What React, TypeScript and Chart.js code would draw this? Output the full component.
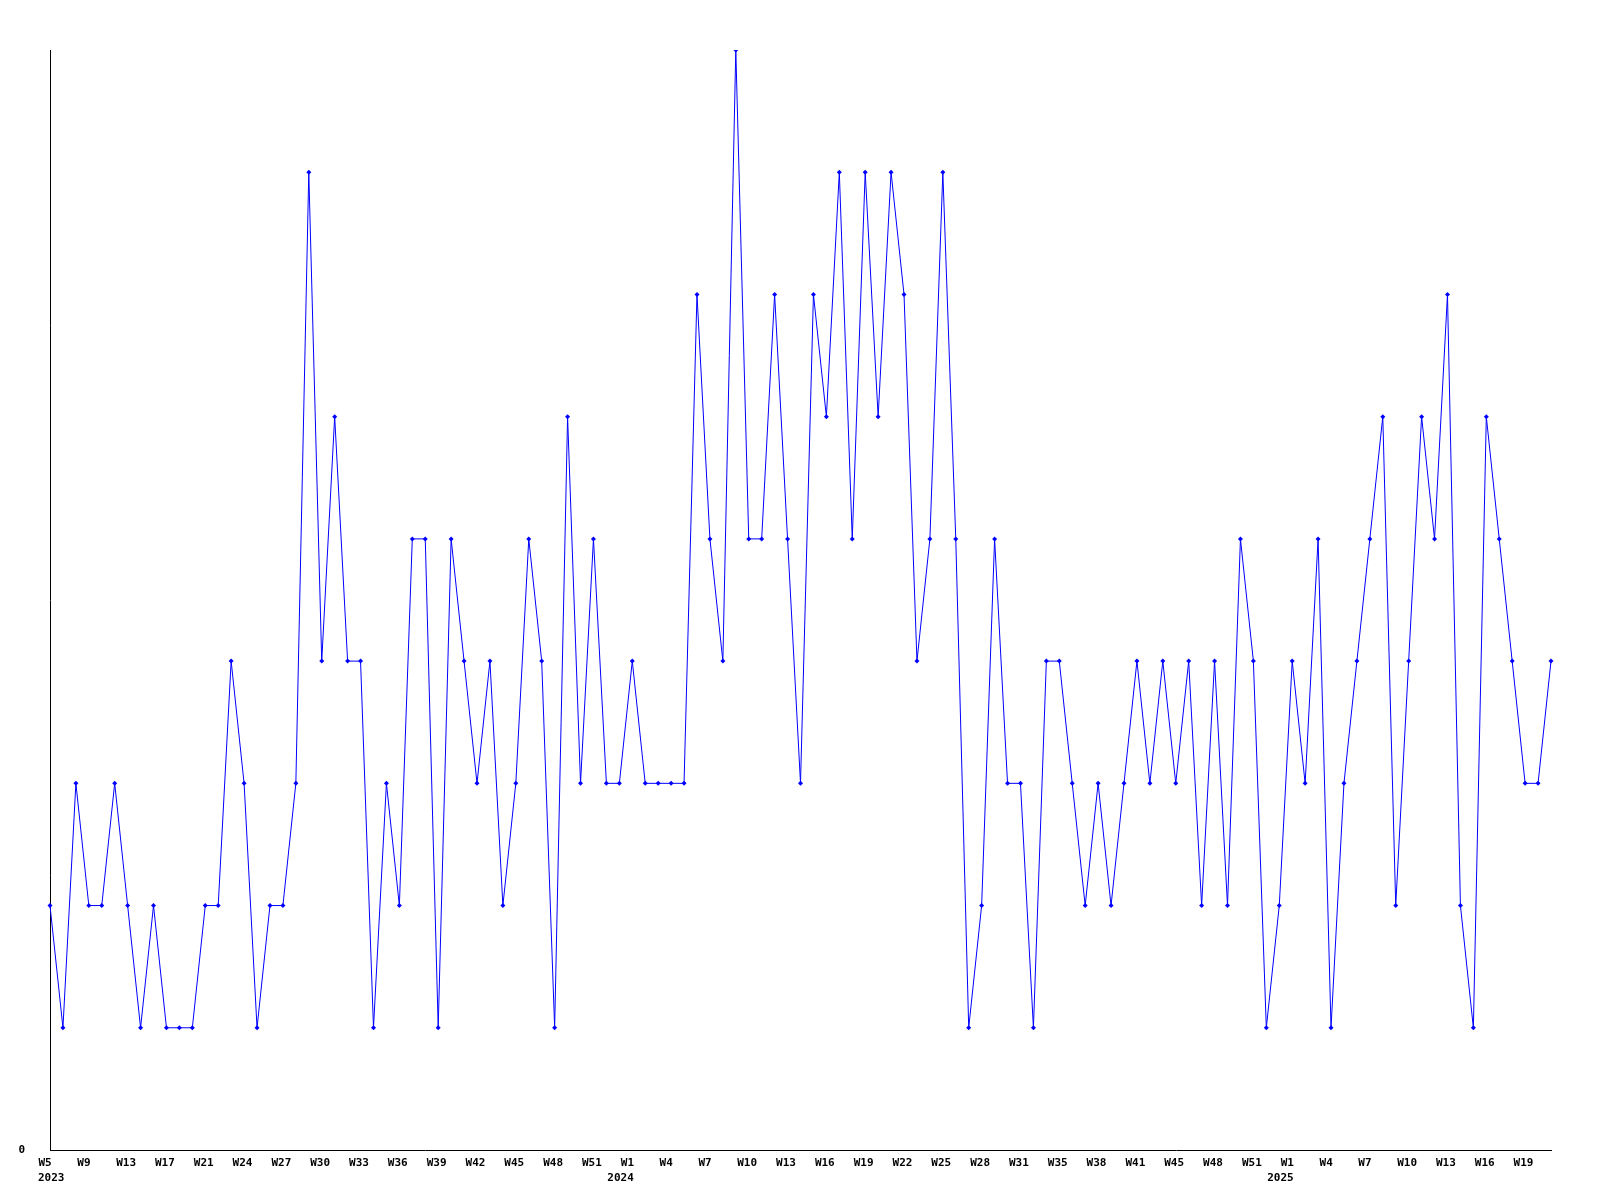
import React, { useEffect, useRef } from "react";
import { Chart, registerables } from "chart.js";

Chart.register(...registerables);

// Week labels (one per data point)
const weekLabels: string[] = [
  // 2023
  "W5", "W6", "W7", "W9", "W10", "W11", "W13", "W14", "W15", "W17", "W18", "W19", "W21",
  "W22", "W23", "W24", "W25", "W26", "W27", "W28", "W29", "W30", "W31", "W32", "W33", "W34",
  "W35", "W36", "W37", "W38", "W39", "W40", "W41", "W42", "W43", "W44", "W45", "W46", "W47",
  "W48", "W49", "W50", "W51", "W52", "W53",
  // 2024
  "W1", "W2", "W3", "W4", "W5", "W6", "W7", "W8", "W9", "W10", "W11", "W12", "W13", "W14",
  "W15", "W16", "W17", "W18", "W19", "W20", "W21", "W22", "W23", "W24", "W25", "W26", "W27",
  "W28", "W29", "W30", "W31", "W32", "W33", "W35", "W36", "W37", "W38", "W39", "W40", "W41",
  "W42", "W43", "W45", "W46", "W47", "W48", "W49", "W50", "W51", "W52", "W53",
  // 2025
  "W1", "W2", "W3", "W4", "W5", "W6", "W7", "W8", "W9", "W10", "W11", "W12", "W13", "W14",
  "W15", "W16", "W17", "W18", "W19", "W20", "W21",
];

// Year tick labels and the category slot each one is printed at
const yearNames: string[] = ["2023", "2024", "2025"];
const yearLabelSlots: number[] = [1, 45, 96];

// Weekly counts
const values: number[] = [
  2, 1, 3, 2, 2, 3, 2, 1, 2, 1, 1, 1, 2, 2, 4, 3, 1,
  2, 2, 3, 8, 4, 6, 4, 4, 1, 3, 2, 5, 5, 1, 5, 4, 3,
  4, 2, 3, 5, 4, 1, 6, 3, 5, 3, 3, 4, 3, 3, 3, 3,
  7, 5, 4, 9, 5, 5, 7, 5, 3, 7, 6, 8, 5, 8, 6, 8, 7,
  4, 5, 8, 5, 1, 2, 5, 3, 3, 1, 4, 4, 3, 2, 3, 2, 3,
  4, 3, 4, 3, 4, 2, 4, 2, 5, 4, 1, 2, 4, 3, 5, 1,
  3, 4, 5, 6, 2, 4, 6, 5, 7, 2, 1, 6, 5, 4, 3, 3, 4,
];

const yMin = 0;
const yMax = 9;
const labelEvery = 3;

export default function App() {
  const canvasRef = useRef<HTMLCanvasElement | null>(null);

  useEffect(() => {
    const canvas = canvasRef.current;
    if (!canvas) return;

    const yearRow = weekLabels.map((_w, i) => {
      const yi = yearLabelSlots.indexOf(i);
      return yi >= 0 ? yearNames[yi] : "";
    });

    const tickFont = {
      family: "'DejaVu Sans Mono', monospace",
      size: 11,
      weight: "bold" as const,
      lineHeight: 1.4,
    };

    const chart = new Chart(canvas, {
      type: "line",
      data: {
        labels: weekLabels,
        datasets: [
          {
            data: values,
            borderColor: "#0000ff",
            backgroundColor: "#0000ff",
            borderWidth: 1,
            tension: 0,
            fill: false,
            pointStyle: "rectRot",
            pointRadius: 2.5,
            pointBorderWidth: 0,
            pointBackgroundColor: "#0000ff",
            pointBorderColor: "#0000ff",
            xAxisID: "x",
            yAxisID: "y",
          },
        ],
      },
      options: {
        animation: false,
        responsive: false,
        devicePixelRatio: 1,
        layout: { padding: { left: 0, top: 50, right: 49, bottom: 0 } },
        plugins: {
          legend: { display: false },
          tooltip: { enabled: false },
        },
        scales: {
          x: {
            type: "category",
            position: "bottom",
            weight: 0,
            offset: false,
            grid: { display: false, drawTicks: false },
            border: { display: true, color: "#000000", width: 1 },
            ticks: {
              autoSkip: false,
              minRotation: 0,
              maxRotation: 0,
              align: "start",
              labelOffset: -11.5,
              padding: 5,
              color: "#000000",
              font: tickFont,
              callback: function (_v: any, index: number) {
                return index % labelEvery === 0 ? weekLabels[index] : "";
              },
            },
            afterFit: (s: any) => {
              s.height = 20;
            },
          },
          xYear: {
            type: "category",
            position: "bottom",
            weight: 1,
            offset: false,
            labels: yearRow,
            grid: { display: false, drawTicks: false },
            border: { display: false },
            ticks: {
              autoSkip: false,
              minRotation: 0,
              maxRotation: 0,
              align: "start",
              labelOffset: -25,
              padding: 0,
              color: "#000000",
              font: tickFont,
            },
            afterFit: (s: any) => {
              s.height = 30;
            },
          },
          y: {
            min: yMin,
            max: yMax,
            grid: { display: false, drawTicks: false },
            border: { display: true, color: "#000000", width: 1 },
            ticks: {
              stepSize: 1,
              padding: 25,
              color: "#000000",
              font: tickFont,
              callback: (v: any) => (v === 0 ? "0" : ""),
            },
            afterFit: (s: any) => {
              s.width = 50;
            },
          },
        },
      },
    });

    return () => {
      chart.destroy();
    };
  }, []);

  return (
    <div
      style={{
        position: "fixed",
        left: 0,
        top: 0,
        width: 1600,
        height: 1200,
        background: "#ffffff",
      }}
    >
      <canvas ref={canvasRef} width={1600} height={1200} style={{ display: "block" }} />
    </div>
  );
}
